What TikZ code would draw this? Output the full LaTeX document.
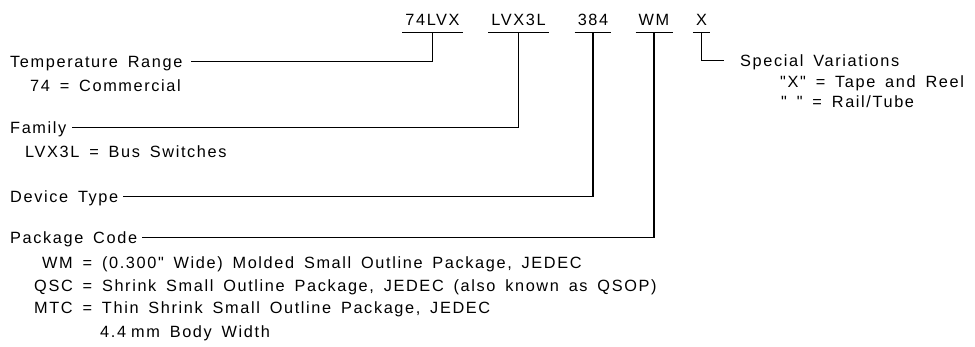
\documentclass[tikz,border=0pt]{standalone}
\usepackage{fontspec}
\newfontfamily\partfont{Liberation Sans}[LetterSpace=10,WordSpace=1.6]
\usetikzlibrary{positioning}

\tikzset{
	txt/.style={anchor=base west, inner sep=0pt, font=\partfont\fontsize{16.3pt}{20pt}\selectfont},
	head/.style={txt, text height=11.7pt, text depth=0pt},
	code/.style={anchor=base, inner xsep=3pt, inner ysep=7pt, text depth=0pt, font=\partfont\fontsize{16.3pt}{20pt}\selectfont},
	wire/.style={line width=1.2pt}
}

\begin{document}
\begin{tikzpicture}[x=1pt,y=-1pt]
	\useasboundingbox (0,0) rectangle (975,346);
	%
	%  PART NUMBER
	%
	\node[code] (lvx) at (432.5,25) {74LVX};
	\node[code] (fam) at (518.5,25) {LVX3L};
	\node[code] (dev) at (593,25) {384};
	\node[code] (pkg) at (654,25) {WM};
	\node[code] (var) at (701.5,25) {X};
	%
	%  FIELDS
	%
	\node[head] (temp) at (10,67) {Temperature Range};
	\node[txt] (temp1) at (30,91) {74 = Commercial};
	\node[head] (family) at (10,133) {Family};
	\node[txt] (family1) at (25,157) {LVX3L = Bus Switches};
	\node[head] (device) at (10,202) {Device Type};
	\node[head] (package) at (10,243) {Package Code};
	\node[txt] (package1) at (42,268) {WM = (0.300" Wide) Molded Small Outline Package, JEDEC};
	\node[txt] (package2) at (34,291) {QSC = Shrink Small Outline Package, JEDEC (also known as QSOP)};
	\node[txt] (package3) at (34,313) {MTC = Thin Shrink Small Outline Package, JEDEC};
	\node[txt] (package4) at (100,337) {4.4\hspace{5pt}mm Body Width};
	\node[head] (special) at (740,66) {Special Variations};
	\node[txt] (special1) at (780,87) {"X" = Tape and Reel};
	\node[txt] (special2) at (781,107) {" " = Rail/Tube};
	%
	%  UNDERLINES
	%
	\foreach \c in {lvx,fam,dev,pkg,var}
		\draw[wire] (\c.south west) -- (\c.south east);
	%
	%  LEADERS
	%
	\draw[wire] (lvx.south) |- ([xshift=8pt]temp.east);
	\draw[wire] (fam.south) |- ([xshift=5pt]family.east);
	\draw[wire] (dev.south) |- ([xshift=5pt]device.east);
	\draw[wire] (pkg.south) |- ([xshift=5pt]package.east);
	\draw[wire] (var.south) |- ([xshift=-16pt]special.west);
\end{tikzpicture}
\end{document}
